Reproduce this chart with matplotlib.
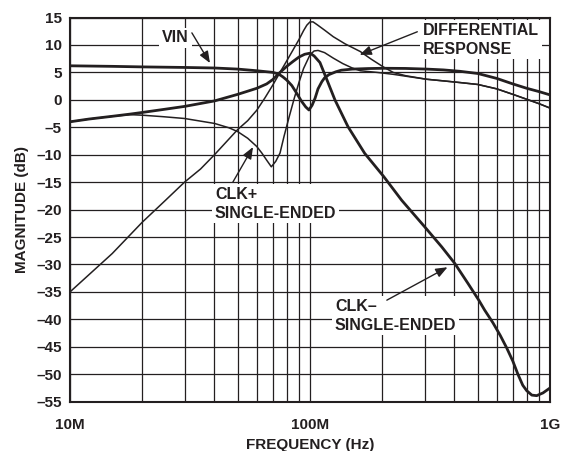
import numpy as np
import matplotlib
matplotlib.use("Agg")
import matplotlib.pyplot as plt

plt.rcParams['font.family'] = ['Liberation Sans', 'DejaVu Sans']
plt.rcParams['font.weight'] = 'bold'

INK = '#231f20'

# frequencies in MHz, magnitudes in dB
vin_f = [10, 15, 20, 30, 40, 50, 60, 70, 74, 77, 80, 84, 88, 92, 96, 99, 102, 105, 108,
         112, 115, 120, 128, 135, 150, 175, 203, 250, 306, 360, 421, 500, 600, 700, 800, 900, 1000]
vin_db = [6.2, 6.1, 6.0, 5.9, 5.8, 5.6, 5.3, 5.0, 4.7, 4.2, 3.6, 2.6, 1.2, -0.2, -1.3, -1.85, -1.0, 0.3, 2.0,
          3.3, 4.0, 4.6, 5.1, 5.4, 5.6, 5.7, 5.75, 5.72, 5.6, 5.45, 5.2, 4.8, 3.9, 2.9, 2.1, 1.5, 0.9]

clkm_f = [10, 12, 15, 17.8, 20, 25, 30, 40, 50, 60, 66, 70, 75, 80, 85, 90, 95, 100, 104,
          110, 117, 127, 144, 169, 203, 241, 300, 354, 401, 456, 505, 534, 578, 620, 660,
          700, 735, 770, 800, 840, 880, 935, 1000]
clkm_db = [-4.0, -3.5, -3.0, -2.6, -2.3, -1.7, -1.2, -0.2, 1.0, 2.1, 2.9, 3.7, 5.0, 6.1, 7.0, 7.8, 8.3, 8.5, 8.0,
           6.8, 3.9, 0.0, -4.9, -9.75, -14.0, -18.3, -23.1, -26.8, -29.8, -33.5, -36.5, -38.3, -40.6, -42.9, -45.2,
           -47.6, -50.0, -52.0, -53.0, -53.8, -53.9, -53.4, -52.5]

clkp_f = [10, 12, 15, 17.8, 20, 24.4, 30, 40, 46, 50, 55, 60, 63, 66, 69, 72, 75, 78, 82, 86,
          90, 94, 100, 104, 108, 115, 125, 137, 150, 162, 190, 222, 260, 306, 360, 421, 500, 600,
          700, 800, 900, 1000]
clkp_db = [-4.0, -3.5, -3.0, -2.7, -2.8, -3.07, -3.4, -4.3, -5.1, -5.8, -7.0, -8.5, -9.7, -11.0, -12.2, -11.2, -9.7, -6.6, -3.0, 0.3,
           3.2, 5.7, 8.2, 8.9, 9.0, 8.6, 7.6, 6.6, 5.8, 5.3, 5.0, 4.65, 4.2, 3.75, 3.45, 3.15, 2.8, 2.0,
           1.0, 0.1, -0.7, -1.5]

diff_f = [10, 15, 20, 25, 30, 35, 40, 50, 55, 60, 65, 70, 75, 80, 85, 90, 94, 97, 100, 103, 107,
          115, 125, 140, 162, 180, 202, 222, 250, 306, 360, 421, 500, 600, 700, 800, 900, 1000]
diff_db = [-35.0, -28.0, -22.3, -18.3, -15.0, -12.6, -10.0, -5.4, -3.8, -1.9, 0.4, 2.7, 5.0, 7.1, 9.1, 11.0, 12.6, 13.6, 14.2, 14.2, 13.7,
           12.7, 11.5, 10.2, 8.8, 7.4, 6.0, 5.0, 4.4, 3.75, 3.45, 3.15, 2.8, 2.0, 1.0, 0.1, -0.7, -1.5]

yticks = list(range(-55, 16, 5))
xticks = [1e7, 1e8, 1e9]
xticklabels = ['10M', '100M', '1G']

fig = plt.figure(figsize=(5.61, 4.51), dpi=100)
ax = fig.add_axes([70/561, 49.3/451, 480/561, 384.2/451])

mhz = 1e6
line_kw = dict(color=INK, solid_capstyle='butt', solid_joinstyle='round')
ax.plot(np.array(diff_f) * mhz, diff_db, lw=1.1, **line_kw)
ax.plot(np.array(clkp_f) * mhz, clkp_db, lw=1.1, **line_kw)
ax.plot(np.array(vin_f) * mhz, vin_db, lw=2.0, **line_kw)
ax.plot(np.array(clkm_f) * mhz, clkm_db, lw=2.0, **line_kw)

ax.set_xscale('log')
ax.set_xlim(1e7, 1e9)
ax.set_ylim(-55, 15)
ax.set_yticks(yticks)
ax.set_yticklabels([str(v).replace('-', '\u2013') for v in yticks])
ax.set_xticks(xticks)
ax.set_xticklabels(xticklabels)
ax.grid(True, which='major', color=INK, lw=0.9)
ax.grid(True, which='minor', axis='x', color=INK, lw=0.9)
ax.set_axisbelow(True)
ax.tick_params(which='both', length=0, labelsize=11, colors=INK)
ax.tick_params(axis='x', pad=12)
ax.tick_params(axis='y', pad=6)
for s in ax.spines.values():
    s.set_linewidth(1.5)
    s.set_color(INK)

ax.set_xlabel('FREQUENCY (Hz)', fontsize=11, fontweight='bold', color=INK, labelpad=4)
ax.set_ylabel('MAGNITUDE (dB)', fontsize=11, fontweight='bold', color=INK, labelpad=5)

box = dict(fc='white', ec='none', pad=2)
txt = dict(fontsize=11.5, fontweight='bold', color=INK, bbox=box, linespacing=1.3)
arrow = dict(arrowstyle='-|>,head_length=0.7,head_width=0.28', color=INK, lw=1.0,
             shrinkA=0, shrinkB=0, mutation_scale=10)

ax.text(27.5e6, 11.3, 'VIN', ha='center', va='center', **txt)
ax.annotate('', xy=(38.3e6, 6.7), xytext=(32.2e6, 12.2), arrowprops=arrow)

ax.text(296e6, 14.0, 'DIFFERENTIAL\nRESPONSE', ha='left', va='top', **txt)
ax.annotate('', xy=(161e6, 8.2), xytext=(280e6, 12.4), arrowprops=arrow)

ax.text(40.2e6, -15.9, 'CLK+\nSINGLE-ENDED', ha='left', va='top', **txt)
ax.annotate('', xy=(57.9e6, -8.6), xytext=(47.7e6, -15.0), arrowprops=arrow)

ax.text(127e6, -36.3, 'CLK\u2013\nSINGLE-ENDED', ha='left', va='top', **txt)
ax.annotate('', xy=(374e6, -30.5), xytext=(209e6, -36.5), arrowprops=arrow)

fig.savefig('out.png', dpi=100)
